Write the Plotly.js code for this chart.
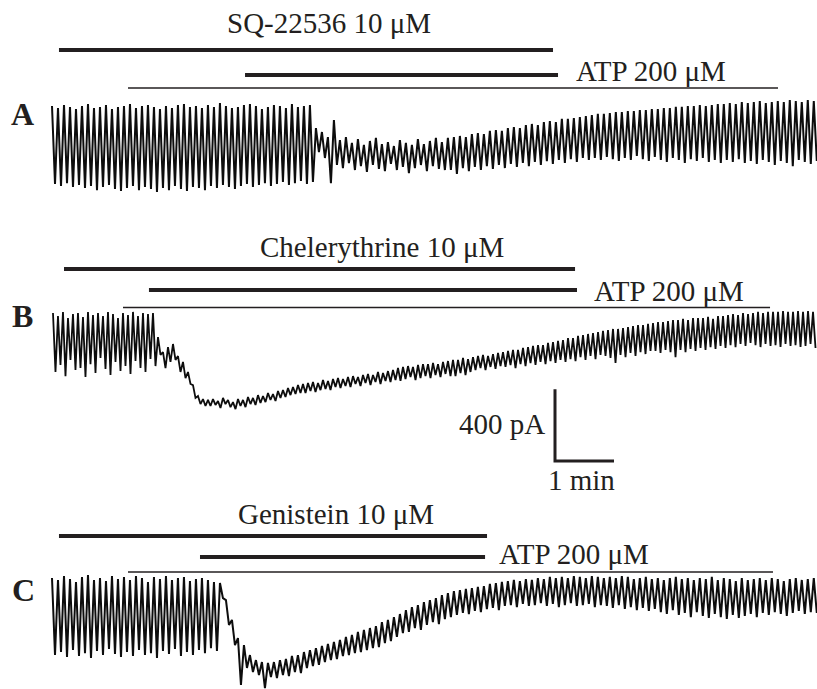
<!DOCTYPE html>
<html><head><meta charset="utf-8">
<script src="https://cdn.plot.ly/plotly-3.0.1.min.js"></script>
<style>html,body{margin:0;padding:0;background:#fff}#chart{width:817px;height:689px}</style>
</head><body><div id="chart"></div>
<script>
// ---------------- DATA (currents in pA relative to holding level, one peak + one trough per oscillation cycle) ----------------
const panelLabels = ["A", "B", "C"];
const drugNames = ["SQ-22536 10 μM", "Chelerythrine 10 μM", "Genistein 10 μM"];
const atpLabel = "ATP 200 μM";

// cycle period (s) and start time (s) for each recording
const cyclePeriod = [6.1, 5.085, 6.1];
const traceStart = [0, 1.0, 0];

// drug application periods (s): inhibitor bar, ATP bar, thin bar
const inhibitorOn = [7.1, 12.2, 7.1];
const inhibitorOff = [509.5, 531.9, 442.4];
const atpOn = [196.3, 98.6, 150.5];
const atpOff = [514.6, 533.9, 440.4];
const thinOn = [77.3, 72.2, 77.3];
const thinOff = [738.3, 730.2, 733.2];

const peaksA = [11,0,17,6,-6,11,22,0,6,17,-6,6,11,22,0,11,17,6,-6,11,0,17,22,6,11,0,17,6,28,11,0,6,17,22,11,-6,6,17,11,0,22,6,11,17,
 -112,-134,-162,-67,
 -179,-162,-195,-173,-206,-184,-167,-201,-190,-212,-179,-195,-206,-173,-201,-184,-167,-190,
 -167,-162,-156,-162,-145,-140,-145,-128,-123,-128,-112,-106,-112,-95,-89,-95,-78,-73,-78,-61,-61,-56,-50,-45,
 -39,-33,-33,-28,-22,-22,-17,-17,-11,-11,-6,-6,0,0,6,6,11,11,17,11,17,22,
 22,28,22,33,28,33,39,28,33,39,33,45,39,33,45,39];
const troughsA = [-424,-435,-419,-441,-430,-446,-435,-458,-441,-430,-452,-463,-446,-435,-458,-441,-452,-469,-446,-458,-435,-452,-463,-441,-446,-458,-435,-446,-430,-441,-452,-435,-424,-441,-430,-419,-435,-424,-413,-430,-419,-407,-424,-413,
 -246,-279,-419,-318,
 -335,-307,-346,-324,-357,-318,-340,-352,-312,-346,-329,-363,-335,-318,-352,-324,-340,-346,
 -346,-368,-335,-352,-329,-346,-324,-340,-318,-335,-312,-329,-307,-324,-301,-318,-296,-312,-290,-307,-285,-301,-279,-290,
 -279,-290,-273,-285,-296,-279,-290,-268,-285,-296,-273,-290,-301,-279,-290,-307,-285,-296,-279,-301,-290,-307,
 -290,-301,-285,-307,-296,-312,-290,-301,-318,-296,-307,-324,-290,-301,-312,-296];

const peaksB = [0,-17,6,-28,-6,0,-22,6,-11,0,-17,6,-6,-28,0,-11,6,-17,0,-6,0,
 -134,-218,-190,-173,-240,-273,-329,-402,-463,-480,
 -485,-480,-491,-474,-485,-497,-480,-485,-469,-474,-458,-463,-446,-452,-435,-430,-419,-413,-402,
 -396,-391,-385,-391,-374,-379,-368,-363,-368,-357,-352,-357,-346,-340,-346,-329,-335,-324,-318,-307,
 -301,-296,-301,-290,-285,-285,-279,-285,-273,-268,-262,-262,-251,-257,-246,-240,-234,-240,-229,-223,
 -218,-212,-206,-206,-195,-190,-184,-179,-179,-167,-162,-156,-151,-140,-140,-128,-123,-117,-112,-106,
 -100,-95,-89,-89,-84,-78,-73,-67,-67,-61,-56,-50,-50,-45,-39,-39,-33,-39,-28,-28,
 -28,-22,-33,-17,-17,-11,-6,-11,0,-6,0,6,0,6,6,6,11,6,6,11,6,11,6];
const troughsB = [-329,-290,-352,-262,-318,-307,-357,-285,-335,-251,-312,-346,-273,-324,-296,-340,-268,-307,-329,-257,-296,
 -234,-307,-273,-262,-329,-363,-396,-474,-508,-519,
 -519,-513,-530,-508,-525,-536,-519,-525,-508,-513,-502,-497,-485,-491,-474,-469,-458,-452,-446,
 -446,-435,-441,-430,-424,-430,-413,-419,-407,-413,-396,-407,-391,-402,-385,-396,-379,-385,-374,-379,
 -368,-357,-374,-363,-352,-363,-346,-357,-340,-352,-352,-335,-346,-329,-318,-307,-318,-301,-312,-296,
 -301,-290,-307,-285,-296,-279,-290,-273,-285,-268,-279,-262,-273,-257,-268,-246,-262,-240,-257,-234,
 -240,-251,-279,-234,-246,-223,-240,-218,-229,-212,-212,-223,-206,-218,-246,-206,-218,-201,-212,-195,
 -206,-190,-201,-184,-195,-179,-190,-173,-184,-167,-179,-190,-173,-184,-179,-190,-173,-184,-179,-190,-184,-173,-195];

const peaksC = [0,-11,11,-6,-22,6,17,-11,0,-17,11,-6,6,-11,11,0,-22,6,-6,11,-11,0,6,-17,-6,0,-11,-22,
 -28,-123,-234,-335,-374,-430,-458,-469,
 -474,-469,-458,-452,-435,-430,-413,-402,-391,-379,-368,-357,-346,-329,-318,-301,-290,-279,-268,-246,-234,-218,-201,
 -179,-162,-151,-134,-123,-112,-95,-84,-73,-67,
 -61,-56,-50,-45,-33,-28,-22,-17,-11,-17,
 -6,-11,0,-6,6,0,6,0,11,6,
 0,11,6,0,6,0,11,6,-6,0,
 6,-6,0,-11,0,6,-6,0,-11,0,
 -6,6,-11,0,-6,-17,0,-11,-6,0,
 -11,0,-6,-17,-6,0,-11,-6,0];
const troughsC = [-430,-413,-441,-402,-435,-419,-446,-407,-430,-396,-424,-441,-413,-435,-402,-430,-419,-446,-407,-424,-396,-435,-413,-430,-402,-419,-391,-407,
 -112,-262,-374,-597,-502,-525,-541,-614,
 -552,-558,-541,-547,-525,-530,-502,-491,-485,-469,-458,-452,-435,-430,-419,-413,-402,-391,-385,-363,-352,-329,-307,
 -301,-279,-290,-262,-246,-257,-229,-218,-206,-195,
 -201,-184,-190,-173,-167,-179,-156,-151,-162,-145,
 -156,-151,-140,-156,-145,-162,-151,-140,-156,-151,
 -145,-162,-151,-156,-167,-151,-173,-162,-179,-167,
 -184,-173,-190,-201,-179,-206,-195,-218,-190,-212,
 -223,-201,-218,-229,-206,-223,-212,-201,-218,-195,
 -206,-190,-201,-212,-195,-184,-201,-190,-195];

const scaleBarPA = 400;   // pA
const scaleBarSec = 60;   // s
const scaleLabels = ["400 pA", "1 min"];

// ---------------- LAYOUT ----------------
const W = 817, H = 689;
const PX_PER_S = 59 / 60;          // from 1 min scale bar
const PA_PER_PX = 400 / 71.7;      // from 400 pA scale bar
const T0_PX = 52;                  // horizontal pixel of t = 0
const zeroPx = [108, 313, 578];    // vertical pixel of 0 pA in each panel
const barPx = [[50, 75, 88], [269, 290, 307.5], [536, 557, 572]];
const ink = "#231f20";
const serif = "Liberation Serif, Times New Roman, serif";

const tAt = px => (px - T0_PX) / PX_PER_S;
const yPaper = py => 1 - py / H;

const yRange = z => [-(H - z) * PA_PER_PX, z * PA_PER_PX];

const peaks = [peaksA, peaksB, peaksC];
const troughs = [troughsA, troughsB, troughsC];
const axisIds = ["y", "y2", "y3"];

const data = [];
for (let k = 0; k < 3; k++) {
  const x = [], y = [];
  const P = cyclePeriod[k];
  for (let i = 0; i < peaks[k].length; i++) {
    x.push(traceStart[k] + i * P); y.push(peaks[k][i]);
    x.push(traceStart[k] + (i + 0.5) * P); y.push(troughs[k][i]);
  }
  data.push({x, y, yaxis: axisIds[k], type: "scatter", mode: "lines",
    line: {color: "#0d0d0d", width: k === 1 ? 1.8 : 2.0, simplify: false}, hoverinfo: "skip"});
}

// scale bar on panel B's axis
const sbT = tAt(555), sbY = (zeroPx[1] - 461) * PA_PER_PX;
data.push({x: [sbT, sbT, sbT + scaleBarSec], y: [sbY + scaleBarPA, sbY, sbY], yaxis: "y2",
  type: "scatter", mode: "lines", line: {color: ink, width: 3}, hoverinfo: "skip"});

const shapes = [];
for (let k = 0; k < 3; k++) {
  const segs = [[inhibitorOn[k], inhibitorOff[k], barPx[k][0], 4],
                [atpOn[k], atpOff[k], barPx[k][1], 4],
                [thinOn[k], thinOff[k], barPx[k][2], 1.6]];
  segs.forEach(s => shapes.push({type: "line", xref: "x", yref: "paper",
    x0: s[0], x1: s[1], y0: yPaper(s[2]), y1: yPaper(s[2]), line: {color: ink, width: s[3]}}));
}

const ann = (text, px, py, xanchor, size, bold) => ({text: bold ? "<b>" + text + "</b>" : text,
  x: px / W, y: yPaper(py), xref: "paper", yref: "paper", xanchor, yanchor: "middle", showarrow: false,
  font: {family: serif, size, color: ink}});

const annotations = [
  ann(drugNames[0], 329, 23.5, "center", 29),
  ann(drugNames[1], 382, 246.5, "center", 29),
  ann(drugNames[2], 336, 513.5, "center", 29),
  ann(atpLabel, 574, 70.5, "left", 29),
  ann(atpLabel, 592, 290.5, "left", 29),
  ann(atpLabel, 497, 553.5, "left", 29),
  ann(panelLabels[0], 9, 114, "left", 32, true),
  ann(panelLabels[1], 10, 316, "left", 32, true),
  ann(panelLabels[2], 10, 590, "left", 32, true),
  ann(scaleLabels[0], 547, 423.5, "right", 29),
  ann(scaleLabels[1], 581, 479.5, "center", 29)
];

const hidden = {visible: false, fixedrange: true, showgrid: false, zeroline: false};
const layout = {
  width: W, height: H, margin: {l: 0, r: 0, t: 0, b: 0},
  paper_bgcolor: "#fff", plot_bgcolor: "#fff", showlegend: false,
  xaxis: Object.assign({range: [tAt(0), tAt(W)]}, hidden),
  yaxis: Object.assign({range: yRange(zeroPx[0])}, hidden),
  yaxis2: Object.assign({range: yRange(zeroPx[1]), overlaying: "y"}, hidden),
  yaxis3: Object.assign({range: yRange(zeroPx[2]), overlaying: "y"}, hidden),
  shapes, annotations
};
Plotly.newPlot("chart", data, layout, {staticPlot: true, displayModeBar: false});
</script></body></html>
